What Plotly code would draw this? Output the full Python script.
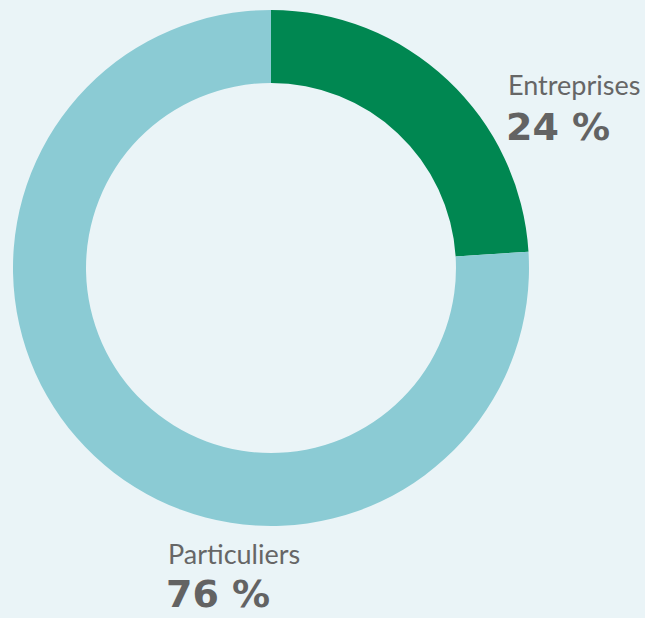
import plotly.graph_objects as go

categories = ["Entreprises", "Particuliers"]
values = [24, 76]
value_labels = ["24 %", "76 %"]
colors = ["#008751", "#8BCBD4"]

W, H = 645, 618
bg = "#EAF4F7"

fig = go.Figure(go.Pie(
    labels=categories,
    values=values,
    sort=False,
    direction="clockwise",
    rotation=0,
    hole=0.717,
    marker=dict(colors=colors, line=dict(width=0)),
    textinfo="none",
    hoverinfo="label+percent",
    domain=dict(x=[13 / W, 529 / W], y=[1 - 526 / H, 1 - 10 / H]),
    showlegend=False,
))

label_pos = [(506, 85, 127), (166, 553, 594)]
for cat, vl, (x, y1, y2) in zip(categories, value_labels, label_pos):
    fig.add_annotation(x=x / W, y=1 - y1 / H, xref="paper", yref="paper",
                       text=cat, showarrow=False, xanchor="left", yanchor="middle",
                       font=dict(family="Lato", size=27, color="#666666"))
    fig.add_annotation(x=(x - 2) / W, y=1 - y2 / H, xref="paper", yref="paper",
                       text="<b>" + vl + "</b>", showarrow=False, xanchor="left", yanchor="middle",
                       font=dict(family="DejaVu Sans", size=38, color="#636363"))

fig.update_layout(width=W, height=H, margin=dict(l=0, r=0, t=0, b=0),
                  paper_bgcolor=bg, plot_bgcolor=bg)
fig.write_html("out.html")
